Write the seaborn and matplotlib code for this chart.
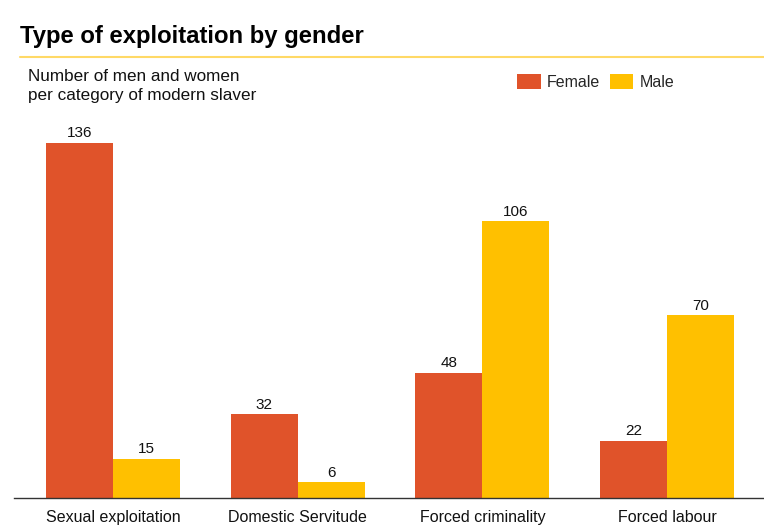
import matplotlib
matplotlib.use("Agg")
import matplotlib.pyplot as plt
import seaborn as sns
import pandas as pd
from matplotlib.patches import Patch

categories = ["Sexual exploitation", "Domestic Servitude", "Forced criminality", "Forced labour"]
female = [136, 32, 48, 22]
male = [15, 6, 106, 70]
series = ["Female", "Male"]
colors = ["#E0532A", "#FFC000"]

df = pd.DataFrame({
    "category": categories * 2,
    "gender": ["Female"] * len(categories) + ["Male"] * len(categories),
    "value": female + male,
})

sns.set_style("white")
plt.rcParams["font.family"] = ["Liberation Sans", "DejaVu Sans"]

W, H = 764, 530
fig = plt.figure(figsize=(W / 100, H / 100), dpi=100)
ax_left, ax_right, ax_bottom, ax_top = 14, 764, 498, 115
ax = fig.add_axes([ax_left / W, 1 - ax_bottom / H, (ax_right - ax_left) / W, (ax_bottom - ax_top) / H])

sns.barplot(data=df, x="category", y="value", hue="gender", hue_order=series,
            palette=colors, width=0.725, saturation=1, ax=ax, legend=False,
            linewidth=0, edgecolor="none")

for cont in ax.containers:
    ax.bar_label(cont, fmt="%d", padding=2, fontsize=11, color="#111111")

ax.set_xlim(-0.536, 3.525)
ax.set_ylim(0, (ax_bottom - ax_top) / 2.61)
ax.set_xlabel("")
ax.set_ylabel("")
ax.set_yticks([])
for s in ["top", "right", "left"]:
    ax.spines[s].set_visible(False)
ax.spines["bottom"].set_color("#333333")
ax.spines["bottom"].set_linewidth(1.0)
ax.tick_params(axis="x", length=0, pad=17, labelsize=11.5, colors="#111111")
for lab in ax.get_xticklabels():
    lab.set_verticalalignment("baseline")

# Title and rule
fig.text(20 / W, 1 - 37 / H, "Type of exploitation by gender", fontsize=17.2,
         fontweight="bold", va="center", ha="left", color="#000000")
fig.add_artist(plt.Line2D([20 / W, 1.0], [1 - 57 / H, 1 - 57 / H],
                          color="#FFD966", linewidth=1.5, transform=fig.transFigure))
fig.text(28 / W, 1 - 86 / H, "Number of men and women\nper category of modern slaver",
         fontsize=12.3, va="center", ha="left", color="#111111", linespacing=1.32)

# Legend
handles = [Patch(facecolor=c, edgecolor="none") for c in colors]
fig.legend(handles, series, loc="center left", bbox_to_anchor=(503 / W, 1 - 82 / H),
           ncol=2, frameon=False, fontsize=11.5, handlelength=1.45, handleheight=1.1,
           handletextpad=0.4, columnspacing=0.6)

fig.savefig("out.png", dpi=100)
